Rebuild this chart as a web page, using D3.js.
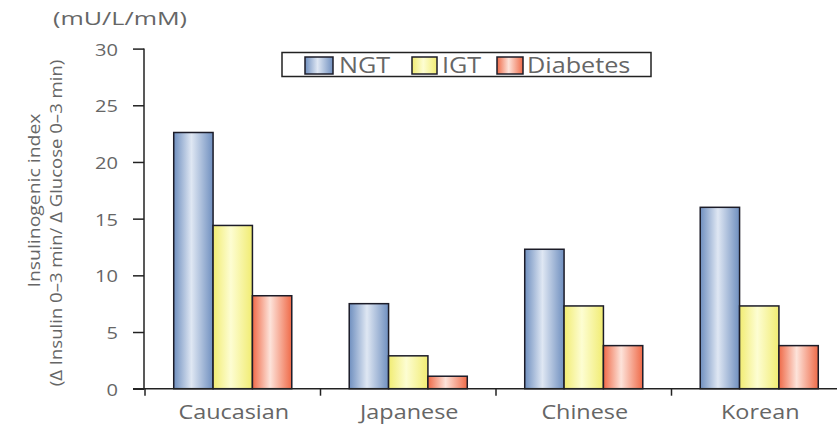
<!DOCTYPE html>
<html>
<head>
<meta charset="utf-8">
<script src="https://cdn.jsdelivr.net/npm/d3@7"></script>
<style>
  html, body { margin: 0; padding: 0; background: #fff; }
  svg { display: block; font-family: "Open Sans", "Noto Sans", sans-serif; }
</style>
</head>
<body>
<svg id="chart" width="837" height="425"></svg>
<script>
// Insulinogenic index by ethnicity and glucose tolerance group
const categories = ["Caucasian", "Japanese", "Chinese", "Korean"];
const seriesNames = ["NGT", "IGT", "Diabetes"];
const ngt = [22.6, 7.5, 12.3, 16.0];
const igt = [14.4, 2.9, 7.3, 7.3];
const diabetes = [8.2, 1.1, 3.8, 3.8];
const yTicks = [0, 5, 10, 15, 20, 25, 30];

const seriesValues = [ngt, igt, diabetes];
const gradients = [
  { id: "g-ngt", edge: "#6f8fbf", mid: "#dfe7f3" },
  { id: "g-igt", edge: "#f1ec72", mid: "#fdfdd2" },
  { id: "g-dia", edge: "#ef6a48", mid: "#fde3da" }
];

const svg = d3.select("#chart");
const x0 = 145, x1 = 847, yBottom = 388.7, yTop = 48.6;
const textColor = "#666";
const axisColor = "#222";

const x = d3.scaleBand().domain(categories).range([x0, x1]);
const xs = d3.scaleBand().domain(seriesNames).range([0, x.bandwidth()]).paddingInner(0).paddingOuter(0.73);
const y = d3.scaleLinear().domain([0, 30]).range([yBottom, yTop]);

// Widen glyphs horizontally by a factor k (the typeface runs wide)
function stretch(sel, k) {
  sel.each(function () {
    const len = this.getComputedTextLength();
    d3.select(this).attr("textLength", len * k).attr("lengthAdjust", "spacingAndGlyphs");
  });
}

// Horizontal shading for the cylinder-like bars
const defs = svg.append("defs");
gradients.forEach(g => {
  const lg = defs.append("linearGradient").attr("id", g.id)
    .attr("x1", "0%").attr("x2", "100%").attr("y1", "0%").attr("y2", "0%");
  lg.append("stop").attr("offset", "0%").attr("stop-color", g.edge);
  lg.append("stop").attr("offset", "45%").attr("stop-color", g.mid);
  lg.append("stop").attr("offset", "100%").attr("stop-color", g.edge);
});

// Bars
categories.forEach((cat, ci) => {
  seriesNames.forEach((s, si) => {
    const v = seriesValues[si][ci];
    svg.append("rect")
      .attr("x", x(cat) + xs(s))
      .attr("y", y(v))
      .attr("width", xs.bandwidth())
      .attr("height", yBottom - y(v))
      .attr("fill", `url(#${gradients[si].id})`)
      .attr("stroke", "#1c1c28")
      .attr("stroke-width", 1.5);
  });
});

// Y axis
const yAxis = svg.append("g").attr("transform", `translate(${x0 - 1},0)`)
  .call(d3.axisLeft(y).tickValues(yTicks).tickSize(11).tickPadding(15));
yAxis.select(".domain").attr("stroke", axisColor).attr("stroke-width", 1.5).attr("d", `M0,${yTop}V${yBottom}`);
yAxis.selectAll(".tick line").attr("stroke", axisColor).attr("stroke-width", 1.5);
yAxis.selectAll(".tick text").attr("fill", textColor).attr("font-size", 17)
  .attr("font-family", "'Open Sans', sans-serif").attr("dy", "0.38em")
  .call(stretch, 1.18);

// X axis
const xAxis = svg.append("g").attr("transform", `translate(0,${yBottom})`)
  .call(d3.axisBottom(x).tickSize(0));
xAxis.select(".domain").attr("stroke", axisColor).attr("stroke-width", 1.5).attr("d", `M${x0 - 12},0H837`);
xAxis.selectAll(".tick text").attr("fill", textColor).attr("font-size", 20)
  .attr("font-family", "'Open Sans', sans-serif")
  .attr("y", 30.6).attr("dy", 0).attr("dx", 1)
  .call(stretch, 1.17);
// Category boundary ticks
xAxis.selectAll(".sep").data(categories).join("line")
  .attr("class", "sep")
  .attr("x1", d => x(d)).attr("x2", d => x(d))
  .attr("y1", 0).attr("y2", 7)
  .attr("stroke", axisColor).attr("stroke-width", 1.5);

// Units label
svg.append("text").attr("x", 53).attr("y", 25)
  .attr("fill", textColor).attr("font-size", 18.5)
  .text("(mU/L/mM)")
  .call(stretch, 1.36);

// Y axis title (two lines)
svg.append("text")
  .attr("transform", "translate(40,200.5) rotate(-90)")
  .attr("text-anchor", "middle").attr("fill", textColor).attr("font-size", 17)
  .text("Insulinogenic index")
  .call(stretch, 1.14);
svg.append("text")
  .attr("transform", "translate(62,223) rotate(-90)")
  .attr("text-anchor", "middle").attr("fill", textColor).attr("font-size", 17)
  .text("(\u0394 Insulin 0\u20133 min/ \u0394 Glucose 0\u20133 min)")
  .call(stretch, 1.09);

// Legend
const legend = svg.append("g");
legend.append("rect").attr("x", 282).attr("y", 52.5).attr("width", 369).attr("height", 24)
  .attr("fill", "#fff").attr("stroke", axisColor).attr("stroke-width", 1.5);
const legendItems = [
  { sx: 305, sw: 28, tx: 339 },
  { sx: 412, sw: 25, tx: 442 },
  { sx: 497, sw: 26, tx: 527 }
];
seriesNames.forEach((s, i) => {
  legend.append("rect").attr("x", legendItems[i].sx).attr("y", 57)
    .attr("width", legendItems[i].sw).attr("height", 17)
    .attr("fill", `url(#${gradients[i].id})`).attr("stroke", "#1c1c28").attr("stroke-width", 1.5);
  legend.append("text").attr("x", legendItems[i].tx).attr("y", 73.3)
    .attr("fill", textColor).attr("font-size", 21)
    .text(s)
    .call(stretch, 1.2);
});
</script>
</body>
</html>
